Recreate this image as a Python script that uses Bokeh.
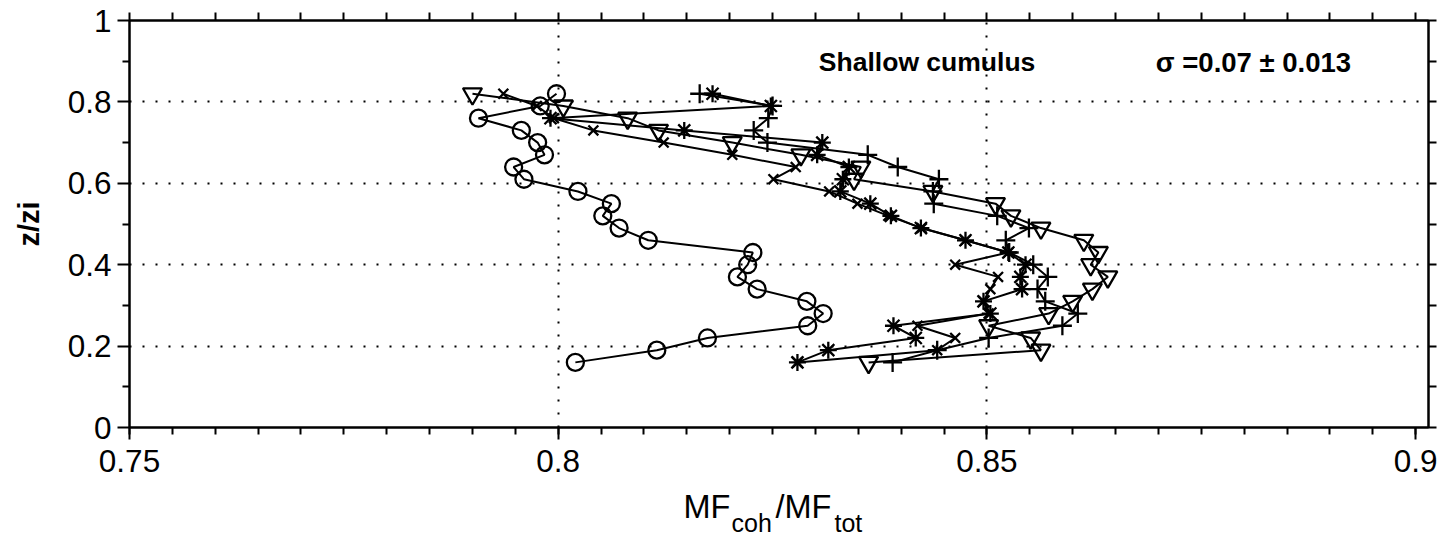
import numpy as np
from bokeh.plotting import figure
from bokeh.models import FixedTicker, LinearAxis, Label, Range1d
from bokeh.layouts import column
from bokeh.embed import file_html
from bokeh.resources import INLINE

# ---- data ----
z = [0.82, 0.79, 0.76, 0.73, 0.70, 0.67, 0.64, 0.61, 0.58, 0.55, 0.52, 0.49,
     0.46, 0.43, 0.40, 0.37, 0.34, 0.31, 0.28, 0.25, 0.22, 0.19, 0.16]

mf_circle = [0.7998, 0.7979, 0.7907, 0.7957, 0.7976, 0.7984, 0.7948, 0.7960,
             0.8023, 0.8062, 0.8052, 0.8071, 0.8105, 0.8227, 0.8221, 0.8209,
             0.8232, 0.8290, 0.8309, 0.8291, 0.8174, 0.8115, 0.8020]
mf_x = [0.7936, 0.7975, 0.7995, 0.8041, 0.8123, 0.8203, 0.8277, 0.8251,
        0.8316, 0.8349, 0.8385, 0.8424, 0.8475, 0.8525, 0.8463, 0.8513,
        0.8504, 0.8496, 0.8502, 0.8419, 0.8463, 0.8442, 0.8279]
mf_plus = [0.8165, 0.8250, 0.8245, 0.8228, 0.8244, 0.8361, 0.8396, 0.8444,
           0.8437, 0.8438, 0.8512, 0.8549, 0.8522, 0.8526, 0.8554, 0.8571,
           0.8559, 0.8568, 0.8606, 0.8588, 0.8502, 0.8442, 0.8390]
mf_star = [0.8180, 0.8248, 0.7991, 0.8147, 0.8308, 0.8302, 0.8339, 0.8332,
           0.8329, 0.8364, 0.8388, 0.8423, 0.8475, 0.8525, 0.8545, 0.8539,
           0.8541, 0.8496, 0.8504, 0.8391, 0.8417, 0.8315, 0.8279]
mf_tri = [0.7900, 0.8006, 0.8081, 0.8117, 0.8203, 0.8283, 0.8353, 0.8345,
          0.8437, 0.8510, 0.8528, 0.8563, 0.8613, 0.8630, 0.8621, 0.8641,
          0.8623, 0.8600, 0.8572, 0.8502, 0.8551, 0.8563, 0.8362]

x_ticks = [0.75, 0.8, 0.85, 0.9]
x_tick_labels = ["0.75", "0.8", "0.85", "0.9"]
y_ticks = [0, 0.2, 0.4, 0.6, 0.8, 1.0]
y_tick_labels = ["0", "0.2", "0.4", "0.6", "0.8", "1"]

FONT = "Liberation Sans"

p = figure(width=1445, height=490, output_backend="svg", toolbar_location=None,
           x_range=Range1d(0.75, 0.9015), y_range=Range1d(0, 1),
           min_border_left=129, min_border_right=17, min_border_top=20,
           min_border_bottom=63)
p.background_fill_color = "white"
p.border_fill_color = "white"
p.outline_line_color = "black"
p.outline_line_width = 2

x_minor = [round(v, 4) for v in np.arange(0.75, 0.9016, 0.005)]
y_minor = [0.1, 0.3, 0.5, 0.7, 0.9]
xt = FixedTicker(ticks=x_ticks, minor_ticks=x_minor)
yt = FixedTicker(ticks=y_ticks, minor_ticks=y_minor)


def style_axis(ax, ticker):
    ax.ticker = ticker
    ax.axis_line_width = 2
    ax.axis_line_color = "black"
    ax.major_tick_line_width = 2
    ax.minor_tick_line_width = 2
    ax.major_tick_line_color = "black"
    ax.minor_tick_line_color = "black"
    ax.major_tick_in = 0
    ax.minor_tick_in = 0
    ax.major_tick_out = 12
    ax.minor_tick_out = 7
    ax.major_label_text_font = FONT
    ax.major_label_text_font_size = "31.5px"
    ax.major_label_text_color = "black"


xa = p.xaxis[0]
style_axis(xa, xt)
xa.major_label_overrides = {v: l for v, l in zip(x_ticks, x_tick_labels)}
xa.major_label_standoff = 10

ya = p.yaxis[0]
style_axis(ya, yt)
ya.major_label_overrides = {v: l for v, l in zip(y_ticks, y_tick_labels)}
ya.major_label_standoff = 6
ya.axis_label = "z/zi"
ya.axis_label_text_font = FONT
ya.axis_label_text_font_size = "29px"
ya.axis_label_text_font_style = "bold"
ya.axis_label_text_color = "black"
ya.axis_label_standoff = 20

# top and right frame ticks (no labels)
top = LinearAxis()
style_axis(top, FixedTicker(ticks=[], minor_ticks=x_minor))
top.minor_tick_out = 8
p.add_layout(top, "above")
right = LinearAxis()
style_axis(right, FixedTicker(ticks=[], minor_ticks=[0.0, 0.1, 0.2, 0.3, 0.4, 0.5,
                                                     0.6, 0.7, 0.8, 0.9, 1.0]))
right.minor_tick_out = 8
p.add_layout(right, "right")

p.xgrid.ticker = FixedTicker(ticks=[0.8, 0.85])
p.ygrid.ticker = FixedTicker(ticks=[0.2, 0.4, 0.6, 0.8])
for g in (p.xgrid[0], p.ygrid[0]):
    g.grid_line_color = "black"
    g.grid_line_dash = "2 11"
    g.grid_line_width = 2

series = [
    (mf_circle, "circle", 17),
    (mf_x, "x", 14),
    (mf_plus, "cross", 19),
    (mf_star, "asterisk", 17),
    (mf_tri, "inverted_triangle", 19),
]
for xs, mk, sz in series:
    p.line(xs, z, line_color="black", line_width=2)
    p.scatter(xs, z, marker=mk, size=sz, fill_color=None,
              line_color="black", line_width=2.3)

p.add_layout(Label(x=0.8304, y=0.897, text="Shallow cumulus",
                   text_font=FONT, text_font_size="26.5px", text_font_style="bold",
                   text_baseline="middle", text_color="black"))
p.add_layout(Label(x=0.8697, y=0.897, text="\u03c3 =0.07 \u00b1 0.013",
                   text_font=FONT, text_font_size="27.5px", text_font_style="bold",
                   text_baseline="middle", text_color="black"))


# ---- x-axis title with subscripts, in a strip below the plot ----
def px2x(px):
    return 0.75 + (px - 129) / 8574.0


STRIP_H = 45
p2 = figure(width=1445, height=STRIP_H, output_backend="svg", toolbar_location=None,
            title=None, x_range=p.x_range, y_range=Range1d(0, STRIP_H),
            x_axis_type=None, y_axis_type=None,
            min_border_left=129, min_border_right=17, min_border_top=0,
            min_border_bottom=0)
p2.outline_line_color = None
p2.background_fill_color = "white"
p2.border_fill_color = "white"

MAIN_Y = 29
SUB_Y = 13
p2.add_layout(Label(x=px2x(683), y=MAIN_Y, text="MF", text_font=FONT,
                    text_font_size="32.5px", text_baseline="alphabetic",
                    text_color="black"))
p2.add_layout(Label(x=px2x(731), y=SUB_Y, text="coh", text_font=FONT,
                    text_font_size="25px", text_baseline="alphabetic",
                    text_color="black"))
p2.add_layout(Label(x=px2x(775), y=MAIN_Y, text="/MF", text_font=FONT,
                    text_font_size="32.5px", text_baseline="alphabetic",
                    text_color="black"))
p2.add_layout(Label(x=px2x(834), y=SUB_Y, text="tot", text_font=FONT,
                    text_font_size="25px", text_baseline="alphabetic",
                    text_color="black"))

layout = column(p, p2, spacing=0)
open("out.html", "w").write(file_html(layout, INLINE))
